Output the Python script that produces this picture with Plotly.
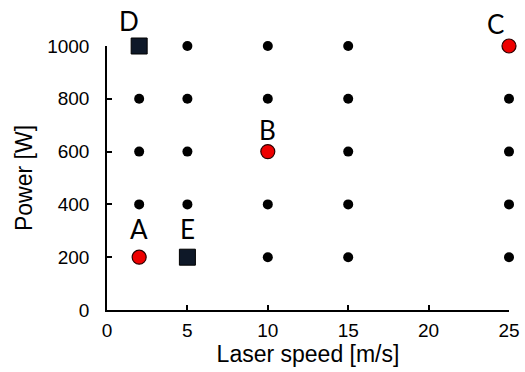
import plotly.graph_objects as go

# Process window: laser speed [m/s] vs. power [W]
speeds = [2, 5, 10, 15, 25]
powers = [200, 400, 600, 800, 1000]

# Highlighted parameter sets
red_labels = ["A", "B", "C"]
red_speed = [2, 10, 25]
red_power = [200, 600, 1000]

square_labels = ["D", "E"]
square_speed = [2, 5]
square_power = [1000, 200]

x_ticks = [0, 5, 10, 15, 20, 25]
y_ticks = [0, 200, 400, 600, 800, 1000]

special = set(zip(red_speed, red_power)) | set(zip(square_speed, square_power))
grid_x, grid_y = [], []
for s in speeds:
    for p in powers:
        if (s, p) not in special:
            grid_x.append(s)
            grid_y.append(p)

fig = go.Figure()
fig.add_trace(go.Scatter(
    x=grid_x, y=grid_y, mode="markers",
    marker=dict(symbol="circle", size=10, color="black", line=dict(width=0)),
    cliponaxis=False, showlegend=False, hoverinfo="skip",
))
fig.add_trace(go.Scatter(
    x=red_speed, y=red_power, mode="markers",
    marker=dict(symbol="circle", size=14, color="#ee0000",
                line=dict(width=1.2, color="#2a0000")),
    cliponaxis=False, showlegend=False, hoverinfo="skip",
))
fig.add_trace(go.Scatter(
    x=square_speed, y=square_power, mode="markers",
    marker=dict(symbol="square", size=16, color="#0e1828",
                line=dict(width=1, color="#000000")),
    cliponaxis=False, showlegend=False, hoverinfo="skip",
))

# Point labels (pixel offsets from each marker)
label_shift = {"A": (0, 28), "B": (0, 22), "C": (-14, 22), "D": (-10, 25), "E": (0, 28)}
for lab, sx, py in zip(red_labels + square_labels,
                       red_speed + square_speed,
                       red_power + square_power):
    dx, dy = label_shift[lab]
    fig.add_annotation(
        x=sx, y=py, text=lab, showarrow=False,
        xshift=dx, yshift=dy,
        font=dict(family="Lato, Open Sans, sans-serif", size=26, color="black"),
    )

axis_common = dict(
    showgrid=False, zeroline=False, showline=True, linecolor="black", linewidth=1.5,
    ticks="inside", ticklen=5, tickwidth=1.5, tickcolor="black",
    tickfont=dict(family="Liberation Sans, Arial, sans-serif", size=19, color="black"),
    mirror=False, automargin=False,
)

fig.update_xaxes(
    range=[0, 25], tickvals=x_ticks, ticktext=[str(v) for v in x_ticks],
    ticklabelstandoff=2,
    title=dict(text="Laser speed [m/s]", standoff=2,
               font=dict(family="Liberation Sans, Arial, sans-serif", size=23, color="black")),
    **axis_common,
)
fig.update_yaxes(
    range=[0, 1000], tickvals=y_ticks, ticktext=[str(v) for v in y_ticks],
    ticklabelstandoff=12,
    title=dict(text="Power [W]", standoff=8,
               font=dict(family="Liberation Sans, Arial, sans-serif", size=23, color="black")),
    **axis_common,
)

fig.update_layout(
    width=525, height=372,
    margin=dict(l=107, r=16, t=46, b=62),
    paper_bgcolor="white", plot_bgcolor="white",
)

fig.write_html("out.html")
